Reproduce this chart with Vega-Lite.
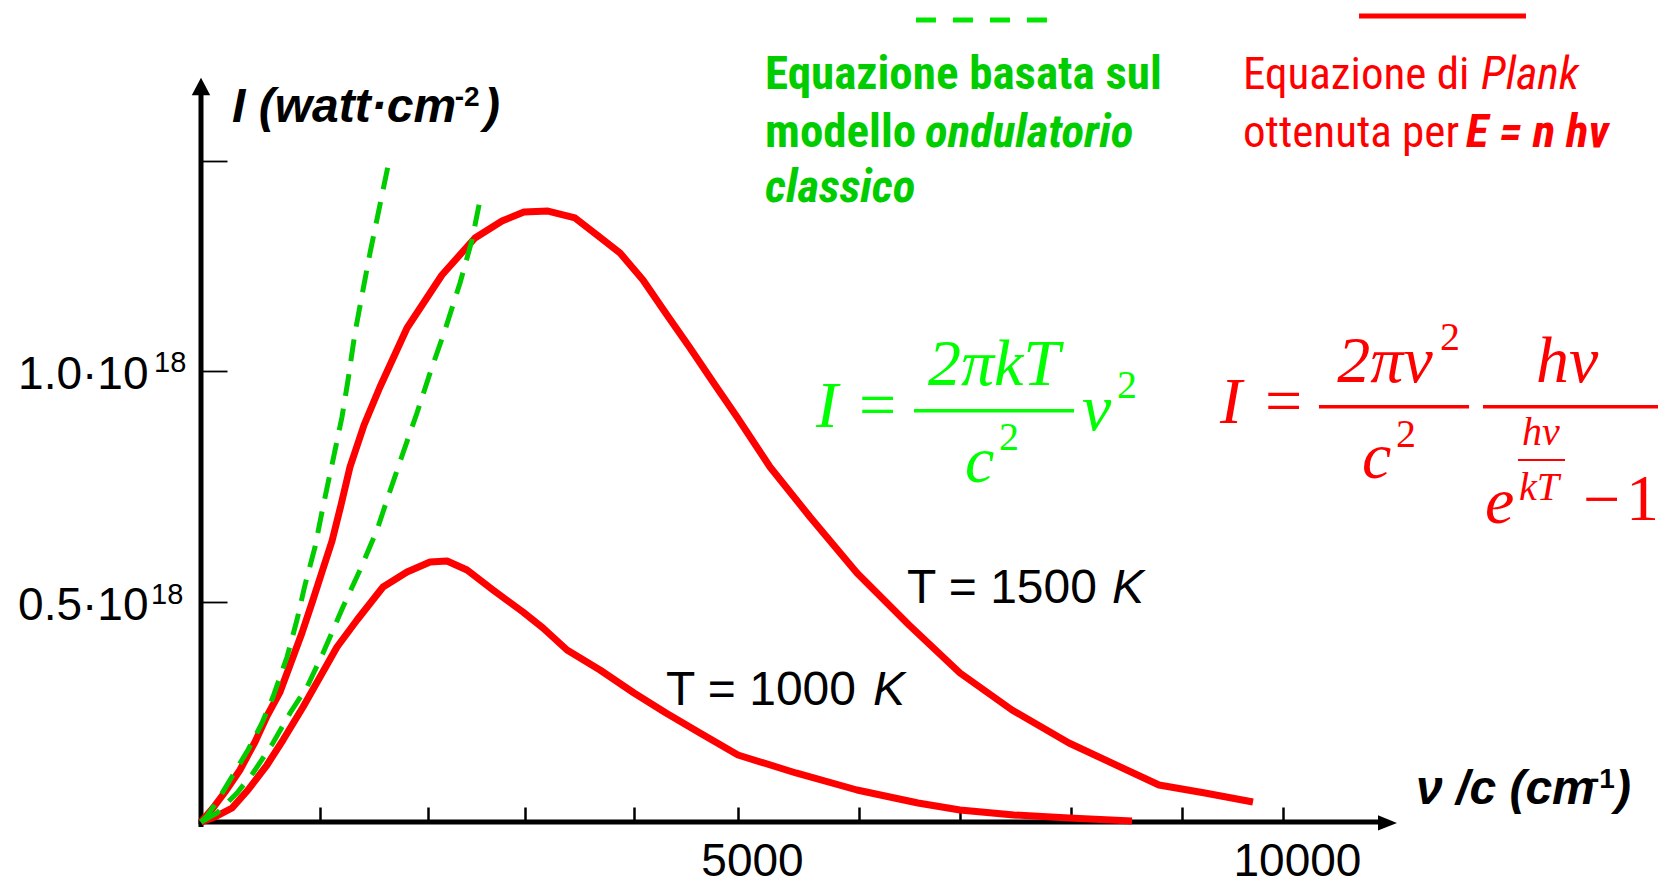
{
  "$schema": "https://vega.github.io/schema/vega-lite/v6.json",
  "width": 1196,
  "height": 744,
  "autosize": {"type": "none"},
  "padding": {"left": 201, "top": 78, "right": 261, "bottom": 58},
  "background": "white",
  "config": {"view": {"stroke": null}},
  "datasets": {
    "curve": [
      {"kind":"planck","T":1500,"x":0,"y":0},{"kind":"planck","T":1500,"x":111,"y":0.0318},{"kind":"planck","T":1500,"x":222,"y":0.0681},{"kind":"planck","T":1500,"x":360,"y":0.1180},{"kind":"planck","T":1500,"x":499,"y":0.1815},{"kind":"planck","T":1500,"x":610,"y":0.2405},{"kind":"planck","T":1500,"x":730,"y":0.2949},{"kind":"planck","T":1500,"x":823,"y":0.3562},{"kind":"planck","T":1500,"x":933,"y":0.4288},{"kind":"planck","T":1500,"x":1026,"y":0.4969},{"kind":"planck","T":1500,"x":1118,"y":0.5672},{"kind":"planck","T":1500,"x":1211,"y":0.6375},{"kind":"planck","T":1500,"x":1294,"y":0.7192},{"kind":"planck","T":1500,"x":1377,"y":0.8054},{"kind":"planck","T":1500,"x":1507,"y":0.9007},{"kind":"planck","T":1500,"x":1654,"y":0.9869},{"kind":"planck","T":1500,"x":1904,"y":1.1208},{"kind":"planck","T":1500,"x":2227,"y":1.2410},{"kind":"planck","T":1500,"x":2532,"y":1.3250},{"kind":"planck","T":1500,"x":2782,"y":1.3636},{"kind":"planck","T":1500,"x":2985,"y":1.3840},{"kind":"planck","T":1500,"x":3207,"y":1.3862},{"kind":"planck","T":1500,"x":3457,"y":1.3704},{"kind":"planck","T":1500,"x":3660,"y":1.3318},{"kind":"planck","T":1500,"x":3873,"y":1.2909},{"kind":"planck","T":1500,"x":4085,"y":1.2297},{"kind":"planck","T":1500,"x":4307,"y":1.1503},{"kind":"planck","T":1500,"x":4520,"y":1.0754},{"kind":"planck","T":1500,"x":4732,"y":0.9983},{"kind":"planck","T":1500,"x":4954,"y":0.9189},{"kind":"planck","T":1500,"x":5259,"y":0.8054},{"kind":"planck","T":1500,"x":5629,"y":0.6920},{"kind":"planck","T":1500,"x":6063,"y":0.5649},{"kind":"planck","T":1500,"x":6544,"y":0.4470},{"kind":"planck","T":1500,"x":7015,"y":0.3381},{"kind":"planck","T":1500,"x":7496,"y":0.2541},{"kind":"planck","T":1500,"x":8022,"y":0.1792},{"kind":"planck","T":1500,"x":8854,"y":0.0839},{"kind":"planck","T":1500,"x":9279,"y":0.0658},{"kind":"planck","T":1500,"x":9723,"y":0.0454},
      {"kind":"planck","T":1000,"x":0,"y":0},{"kind":"planck","T":1000,"x":129,"y":0.0113},{"kind":"planck","T":1000,"x":287,"y":0.0318},{"kind":"planck","T":1000,"x":434,"y":0.0726},{"kind":"planck","T":1000,"x":610,"y":0.1293},{"kind":"planck","T":1000,"x":758,"y":0.1860},{"kind":"planck","T":1000,"x":943,"y":0.2609},{"kind":"planck","T":1000,"x":1100,"y":0.3290},{"kind":"planck","T":1000,"x":1257,"y":0.3970},{"kind":"planck","T":1000,"x":1442,"y":0.4583},{"kind":"planck","T":1000,"x":1682,"y":0.5332},{"kind":"planck","T":1000,"x":1904,"y":0.5672},{"kind":"planck","T":1000,"x":2117,"y":0.5899},{"kind":"planck","T":1000,"x":2274,"y":0.5922},{"kind":"planck","T":1000,"x":2459,"y":0.5717},{"kind":"planck","T":1000,"x":2699,"y":0.5264},{"kind":"planck","T":1000,"x":2976,"y":0.4764},{"kind":"planck","T":1000,"x":3161,"y":0.4401},{"kind":"planck","T":1000,"x":3383,"y":0.3902},{"kind":"planck","T":1000,"x":3688,"y":0.3449},{"kind":"planck","T":1000,"x":4002,"y":0.2927},{"kind":"planck","T":1000,"x":4298,"y":0.2473},{"kind":"planck","T":1000,"x":4612,"y":0.2019},{"kind":"planck","T":1000,"x":4963,"y":0.1520},{"kind":"planck","T":1000,"x":5499,"y":0.1112},{"kind":"planck","T":1000,"x":6063,"y":0.0726},{"kind":"planck","T":1000,"x":6627,"y":0.0431},{"kind":"planck","T":1000,"x":7015,"y":0.0272},{"kind":"planck","T":1000,"x":7514,"y":0.0159},{"kind":"planck","T":1000,"x":8022,"y":0.0091},{"kind":"planck","T":1000,"x":8605,"y":0.0023},
      {"kind":"classico","T":1500,"x":0,"y":0},{"kind":"classico","T":1500,"x":55,"y":0.0136},{"kind":"classico","T":1500,"x":157,"y":0.0499},{"kind":"classico","T":1500,"x":296,"y":0.1066},{"kind":"classico","T":1500,"x":434,"y":0.1634},{"kind":"classico","T":1500,"x":564,"y":0.2246},{"kind":"classico","T":1500,"x":665,"y":0.2836},{"kind":"classico","T":1500,"x":795,"y":0.3744},{"kind":"classico","T":1500,"x":887,"y":0.4583},{"kind":"classico","T":1500,"x":961,"y":0.5377},{"kind":"classico","T":1500,"x":1054,"y":0.6239},{"kind":"classico","T":1500,"x":1118,"y":0.7033},{"kind":"classico","T":1500,"x":1174,"y":0.7691},{"kind":"classico","T":1500,"x":1220,"y":0.8213},{"kind":"classico","T":1500,"x":1303,"y":0.9189},{"kind":"classico","T":1500,"x":1359,"y":1.0028},{"kind":"classico","T":1500,"x":1423,"y":1.1094},{"kind":"classico","T":1500,"x":1497,"y":1.2070},{"kind":"classico","T":1500,"x":1562,"y":1.2909},{"kind":"classico","T":1500,"x":1738,"y":1.4997},
      {"kind":"classico","T":1000,"x":0,"y":0},{"kind":"classico","T":1000,"x":148,"y":0.0204},{"kind":"classico","T":1000,"x":333,"y":0.0658},{"kind":"classico","T":1000,"x":481,"y":0.1112},{"kind":"classico","T":1000,"x":665,"y":0.1792},{"kind":"classico","T":1000,"x":823,"y":0.2473},{"kind":"classico","T":1000,"x":980,"y":0.3063},{"kind":"classico","T":1000,"x":1128,"y":0.3834},{"kind":"classico","T":1000,"x":1312,"y":0.4878},{"kind":"classico","T":1000,"x":1470,"y":0.5717},{"kind":"classico","T":1000,"x":1627,"y":0.6625},{"kind":"classico","T":1000,"x":1728,"y":0.7374},{"kind":"classico","T":1000,"x":1867,"y":0.8372},{"kind":"classico","T":1000,"x":1996,"y":0.9279},{"kind":"classico","T":1000,"x":2117,"y":1.0187},{"kind":"classico","T":1000,"x":2255,"y":1.1162},{"kind":"classico","T":1000,"x":2394,"y":1.2229},{"kind":"classico","T":1000,"x":2505,"y":1.3204},{"kind":"classico","T":1000,"x":2588,"y":1.4225}
    ],
    "segmenti": [
      {"role":"asse-y","x":0,"y":-0.0113,"y2":1.6562},
      {"role":"asse-x","x":-23,"x2":10934,"y":0},
      {"role":"legenda-verde","x":6608,"x2":7819,"y":1.8196},
      {"role":"legenda-rossa","x":10703,"x2":12246,"y":1.8287},
      {"role":"frazione-verde","x":6590,"x2":8069,"y":0.9332},
      {"role":"frazione-rossa","x":10333,"x2":11720,"y":0.9422},
      {"role":"frazione-rossa","x":11849,"x2":13762,"y":0.9422},
      {"role":"frazione-esponente","x":12172,"x2":12607,"y":0.8213}
    ],
    "frecce": [
      {"role":"freccia-y","x":0,"y":1.6676},
      {"role":"freccia-x","x":10966,"y":-0.002}
    ],
    "testi": [
      {"role":"titolo","text":"I (watt·cm","x":287,"y":1.5882},
      {"role":"titolo","text":")","x":2615,"y":1.5882},
      {"role":"titolo","text":"ν /c (cm","x":11230,"y":0.0408},
      {"role":"titolo","text":")","x":13069,"y":0.0408},
      {"role":"apice-nero","text":"-2","x":2345,"y":1.6245},
      {"role":"apice-nero","text":"-1","x":12838,"y":0.0771},
      {"role":"apice-asse","text":"18","x":-434,"y":1.0210},
      {"role":"apice-asse","text":"18","x":-462,"y":0.4946},
      {"role":"temp","text":"T = 1500","x":6525,"y":0.4969},
      {"role":"temp","text":"T = 1000","x":4298,"y":0.2654},
      {"role":"temp-K","text":"K","x":8420,"y":0.4969},
      {"role":"temp-K","text":"K","x":6211,"y":0.2654},
      {"role":"verde","text":"Equazione basata sul","x":5213,"y":1.6630},
      {"role":"verde","text":"modello","x":5213,"y":1.5314},
      {"role":"verde-it","text":"ondulatorio","x":6692,"y":1.5314},
      {"role":"verde-it","text":"classico","x":5213,"y":1.4067},
      {"role":"rosso","text":"Equazione di","x":9631,"y":1.6630},
      {"role":"rosso","text":"ottenuta per","x":9631,"y":1.5314},
      {"role":"rosso-it","text":"Plank","x":11830,"y":1.6630},
      {"role":"rosso-bi","text":"E = n hν","x":11692,"y":1.5314},
      {"role":"f-verde","text":"I","x":5684,"y":0.8962},
      {"role":"f-verde","text":"c","x":7061,"y":0.7714},
      {"role":"f-verde","text":"ν","x":8143,"y":0.8894},
      {"role":"f-verde-c","text":"2πkT","x":7329,"y":0.9915},
      {"role":"f-verde-r","text":"=","x":6082,"y":0.8962},
      {"role":"f-verde-apice","text":"2","x":7376,"y":0.8440},
      {"role":"f-verde-apice","text":"2","x":8466,"y":0.9620},
      {"role":"f-rosso","text":"I","x":9418,"y":0.9053},
      {"role":"f-rosso","text":"c","x":10731,"y":0.7805},
      {"role":"f-rosso","text":"hν","x":12339,"y":0.9983},
      {"role":"f-rosso","text":"e","x":11867,"y":0.6784},
      {"role":"f-rosso-c","text":"2πν","x":10943,"y":0.9983},
      {"role":"f-rosso-r","text":"=","x":9834,"y":0.9053},
      {"role":"f-rosso-r","text":"−","x":12773,"y":0.6829},
      {"role":"f-rosso-r","text":"1","x":13171,"y":0.6852},
      {"role":"f-rosso-apice","text":"2","x":11451,"y":1.0709},
      {"role":"f-rosso-apice","text":"2","x":11045,"y":0.8508},
      {"role":"f-rosso-apice-it","text":"hν","x":12209,"y":0.8553},
      {"role":"f-rosso-apice-it","text":"kT","x":12181,"y":0.7306}
    ]
  },
  "encoding": {
    "x": {
      "field": "x", "type": "quantitative",
      "scale": {"domain": [0, 11054], "nice": false, "zero": false},
      "axis": {
        "title": null, "grid": false, "domain": false,
        "values": [1100, 2098, 2994, 4002, 4963, 6081, 7015, 8041, 9067, 10000],
        "labelExpr": "datum.value == 4963 ? '5000' : datum.value == 10000 ? '10000' : ''",
        "tickSize": -15, "tickWidth": 2.5, "tickColor": "black",
        "labelFont": "Liberation Sans", "labelFontSize": 46, "labelColor": "black",
        "labelBaseline": "alphabetic", "labelPadding": 68, "labelOffset": 14,
        "labelOverlap": false, "labelFlush": false, "labelBound": false
      }
    },
    "y": {
      "field": "y", "type": "quantitative",
      "scale": {"domain": [0, 1.688], "nice": false, "zero": false},
      "axis": {
        "title": null, "grid": false, "domain": false,
        "values": [0.4991, 1.0232, 1.4997],
        "labelExpr": "datum.value < 0.7 ? '0.5·10' : datum.value < 1.2 ? '1.0·10' : ''",
        "tickSize": -26, "tickWidth": 1.8, "tickColor": "black",
        "labelFont": "Liberation Sans", "labelFontSize": 46, "labelColor": "black",
        "labelAlign": "right", "labelBaseline": "alphabetic", "labelPadding": 79, "labelOffset": 17,
        "labelOverlap": false, "labelFlush": false, "labelBound": false
      }
    }
  },
  "layer": [
    {"data": {"name": "segmenti"}, "transform": [{"filter": "datum.role == 'asse-y'"}],
     "mark": {"type": "rule", "color": "black", "strokeWidth": 5}, "encoding": {"y2": {"field": "y2"}}},
    {"data": {"name": "segmenti"}, "transform": [{"filter": "datum.role == 'asse-x'"}],
     "mark": {"type": "rule", "color": "black", "strokeWidth": 5}, "encoding": {"x2": {"field": "x2"}}},
    {"data": {"name": "frecce"}, "transform": [{"filter": "datum.role == 'freccia-y'"}],
     "mark": {"type": "point", "shape": "M0,-1L1,0.9L-1,0.9Z", "filled": true, "color": "black", "opacity": 1, "size": 340, "strokeWidth": 0}},
    {"data": {"name": "frecce"}, "transform": [{"filter": "datum.role == 'freccia-x'"}],
     "mark": {"type": "point", "shape": "M1,0L-1,-0.8L-1,0.8Z", "filled": true, "color": "black", "opacity": 1, "size": 361, "strokeWidth": 0}},
    {"data": {"name": "curve"}, "transform": [{"filter": "datum.kind == 'planck'"}],
     "mark": {"type": "line", "color": "#ff0000", "strokeWidth": 7, "strokeJoin": "round"},
     "encoding": {"detail": {"field": "T"}}},
    {"data": {"name": "curve"}, "transform": [{"filter": "datum.kind == 'classico'"}],
     "mark": {"type": "line", "color": "#00cc00", "strokeWidth": 5, "strokeDash": [22, 13]},
     "encoding": {"detail": {"field": "T"}}},
    {"data": {"name": "segmenti"}, "transform": [{"filter": "datum.role == 'legenda-verde'"}],
     "mark": {"type": "rule", "color": "#00e600", "strokeWidth": 5, "strokeDash": [20, 17]}, "encoding": {"x2": {"field": "x2"}}},
    {"data": {"name": "segmenti"}, "transform": [{"filter": "datum.role == 'legenda-rossa'"}],
     "mark": {"type": "rule", "color": "#ff0000", "strokeWidth": 5}, "encoding": {"x2": {"field": "x2"}}},
    {"data": {"name": "segmenti"}, "transform": [{"filter": "datum.role == 'frazione-verde'"}],
     "mark": {"type": "rule", "color": "#00ff00", "strokeWidth": 3.5}, "encoding": {"x2": {"field": "x2"}}},
    {"data": {"name": "segmenti"}, "transform": [{"filter": "datum.role == 'frazione-rossa'"}],
     "mark": {"type": "rule", "color": "#ff0000", "strokeWidth": 3.5}, "encoding": {"x2": {"field": "x2"}}},
    {"data": {"name": "segmenti"}, "transform": [{"filter": "datum.role == 'frazione-esponente'"}],
     "mark": {"type": "rule", "color": "#ff0000", "strokeWidth": 2}, "encoding": {"x2": {"field": "x2"}}},
    {"data": {"name": "testi"}, "transform": [{"filter": "datum.role == 'titolo'"}],
     "mark": {"type": "text", "align": "left", "baseline": "alphabetic", "font": "Liberation Sans", "fontSize": 48, "fontWeight": "bold", "fontStyle": "italic", "color": "black"},
     "encoding": {"text": {"field": "text"}}},
    {"data": {"name": "testi"}, "transform": [{"filter": "datum.role == 'apice-nero'"}],
     "mark": {"type": "text", "align": "left", "baseline": "alphabetic", "font": "Liberation Sans", "fontSize": 28, "fontWeight": "bold", "color": "black"},
     "encoding": {"text": {"field": "text"}}},
    {"data": {"name": "testi"}, "transform": [{"filter": "datum.role == 'apice-asse'"}],
     "mark": {"type": "text", "align": "left", "baseline": "alphabetic", "font": "Liberation Sans", "fontSize": 29, "color": "black"},
     "encoding": {"text": {"field": "text"}}},
    {"data": {"name": "testi"}, "transform": [{"filter": "datum.role == 'temp'"}],
     "mark": {"type": "text", "align": "left", "baseline": "alphabetic", "font": "Liberation Sans", "fontSize": 48, "color": "black"},
     "encoding": {"text": {"field": "text"}}},
    {"data": {"name": "testi"}, "transform": [{"filter": "datum.role == 'temp-K'"}],
     "mark": {"type": "text", "align": "left", "baseline": "alphabetic", "font": "Liberation Sans", "fontSize": 48, "fontStyle": "italic", "color": "black"},
     "encoding": {"text": {"field": "text"}}},
    {"data": {"name": "testi"}, "transform": [{"filter": "datum.role == 'verde'"}],
     "mark": {"type": "text", "align": "left", "baseline": "alphabetic", "font": "Roboto Condensed, Liberation Sans", "fontSize": 47, "fontWeight": "bold", "color": "#00cc00"},
     "encoding": {"text": {"field": "text"}}},
    {"data": {"name": "testi"}, "transform": [{"filter": "datum.role == 'verde-it'"}],
     "mark": {"type": "text", "align": "left", "baseline": "alphabetic", "font": "Roboto Condensed, Liberation Sans", "fontSize": 47, "fontWeight": "bold", "fontStyle": "italic", "color": "#00cc00"},
     "encoding": {"text": {"field": "text"}}},
    {"data": {"name": "testi"}, "transform": [{"filter": "datum.role == 'rosso'"}],
     "mark": {"type": "text", "align": "left", "baseline": "alphabetic", "font": "Roboto Condensed, Liberation Sans", "fontSize": 45, "color": "#ff0000"},
     "encoding": {"text": {"field": "text"}}},
    {"data": {"name": "testi"}, "transform": [{"filter": "datum.role == 'rosso-it'"}],
     "mark": {"type": "text", "align": "left", "baseline": "alphabetic", "font": "Roboto Condensed, Liberation Sans", "fontSize": 46, "fontStyle": "italic", "color": "#ff0000"},
     "encoding": {"text": {"field": "text"}}},
    {"data": {"name": "testi"}, "transform": [{"filter": "datum.role == 'rosso-bi'"}],
     "mark": {"type": "text", "align": "left", "baseline": "alphabetic", "font": "Roboto Condensed, Liberation Sans", "fontSize": 47, "fontWeight": "bold", "fontStyle": "italic", "color": "#ff0000"},
     "encoding": {"text": {"field": "text"}}},
    {"data": {"name": "testi"}, "transform": [{"filter": "datum.role == 'f-verde'"}],
     "mark": {"type": "text", "align": "left", "baseline": "alphabetic", "font": "Liberation Serif", "fontSize": 66, "fontStyle": "italic", "color": "#00ff00"},
     "encoding": {"text": {"field": "text"}}},
    {"data": {"name": "testi"}, "transform": [{"filter": "datum.role == 'f-verde-c'"}],
     "mark": {"type": "text", "align": "center", "baseline": "alphabetic", "font": "Liberation Serif", "fontSize": 66, "fontStyle": "italic", "color": "#00ff00"},
     "encoding": {"text": {"field": "text"}}},
    {"data": {"name": "testi"}, "transform": [{"filter": "datum.role == 'f-verde-r'"}],
     "mark": {"type": "text", "align": "left", "baseline": "alphabetic", "font": "Liberation Serif", "fontSize": 66, "color": "#00ff00"},
     "encoding": {"text": {"field": "text"}}},
    {"data": {"name": "testi"}, "transform": [{"filter": "datum.role == 'f-verde-apice'"}],
     "mark": {"type": "text", "align": "left", "baseline": "alphabetic", "font": "Liberation Serif", "fontSize": 40, "color": "#00ff00"},
     "encoding": {"text": {"field": "text"}}},
    {"data": {"name": "testi"}, "transform": [{"filter": "datum.role == 'f-rosso'"}],
     "mark": {"type": "text", "align": "left", "baseline": "alphabetic", "font": "Liberation Serif", "fontSize": 66, "fontStyle": "italic", "color": "#ff0000"},
     "encoding": {"text": {"field": "text"}}},
    {"data": {"name": "testi"}, "transform": [{"filter": "datum.role == 'f-rosso-c'"}],
     "mark": {"type": "text", "align": "center", "baseline": "alphabetic", "font": "Liberation Serif", "fontSize": 66, "fontStyle": "italic", "color": "#ff0000"},
     "encoding": {"text": {"field": "text"}}},
    {"data": {"name": "testi"}, "transform": [{"filter": "datum.role == 'f-rosso-r'"}],
     "mark": {"type": "text", "align": "left", "baseline": "alphabetic", "font": "Liberation Serif", "fontSize": 66, "color": "#ff0000"},
     "encoding": {"text": {"field": "text"}}},
    {"data": {"name": "testi"}, "transform": [{"filter": "datum.role == 'f-rosso-apice'"}],
     "mark": {"type": "text", "align": "left", "baseline": "alphabetic", "font": "Liberation Serif", "fontSize": 40, "color": "#ff0000"},
     "encoding": {"text": {"field": "text"}}},
    {"data": {"name": "testi"}, "transform": [{"filter": "datum.role == 'f-rosso-apice-it'"}],
     "mark": {"type": "text", "align": "left", "baseline": "alphabetic", "font": "Liberation Serif", "fontSize": 40, "fontStyle": "italic", "color": "#ff0000"},
     "encoding": {"text": {"field": "text"}}}
  ]
}
